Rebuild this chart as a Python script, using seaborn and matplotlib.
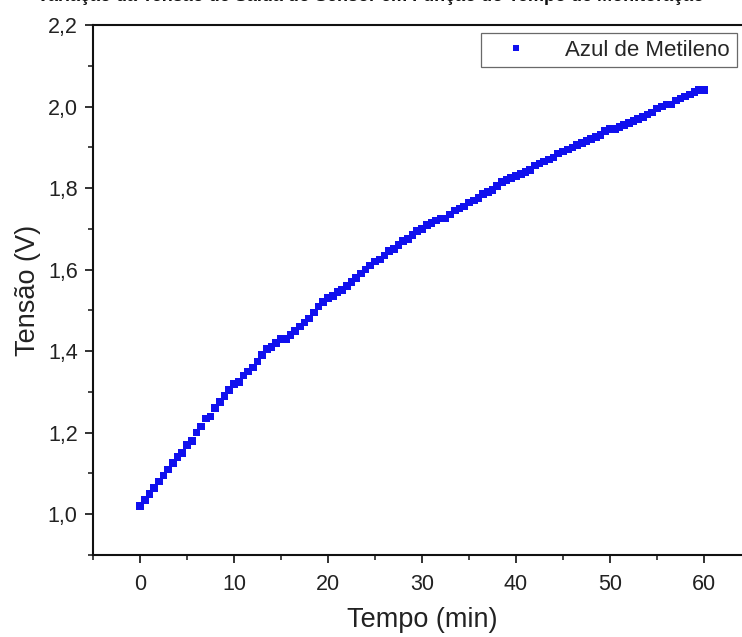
import numpy as np
import pandas as pd
import matplotlib
matplotlib.use("Agg")
import matplotlib.pyplot as plt
import seaborn as sns
from matplotlib.ticker import MultipleLocator, FuncFormatter

# ==============================================================================
# DATA
# ==============================================================================
tempo = np.arange(0, 60.5, 0.5)  # min, one reading every 30 s
tensao = [
    1.020, 1.035, 1.050, 1.065, 1.080, 1.095, 1.110, 1.125, 1.140, 1.150,
    1.170, 1.180, 1.200, 1.215, 1.235, 1.240, 1.260, 1.275, 1.290, 1.305,
    1.320, 1.325, 1.340, 1.350, 1.360, 1.375, 1.390, 1.405, 1.410, 1.420,
    1.430, 1.430, 1.440, 1.450, 1.460, 1.470, 1.480, 1.495, 1.510, 1.520,
    1.530, 1.535, 1.545, 1.550, 1.560, 1.570, 1.580, 1.590, 1.600, 1.610,
    1.620, 1.625, 1.635, 1.645, 1.650, 1.660, 1.670, 1.675, 1.685, 1.695,
    1.700, 1.710, 1.715, 1.720, 1.725, 1.725, 1.735, 1.745, 1.750, 1.755,
    1.765, 1.770, 1.775, 1.785, 1.790, 1.795, 1.805, 1.815, 1.820, 1.825,
    1.830, 1.835, 1.840, 1.845, 1.855, 1.860, 1.865, 1.870, 1.875, 1.885,
    1.890, 1.895, 1.900, 1.905, 1.910, 1.915, 1.920, 1.925, 1.930, 1.940,
    1.945, 1.945, 1.950, 1.955, 1.960, 1.965, 1.970, 1.975, 1.980, 1.985,
    1.995, 2.000, 2.005, 2.005, 2.015, 2.020, 2.025, 2.030, 2.035, 2.040,
    2.040,
]
serie = "Azul de Metileno"
titulo = "Variação da Tensão de Saída do Sensor em Função do Tempo de Monitoração"

df = pd.DataFrame({"Tempo (min)": tempo, "Tensão (V)": tensao, "serie": serie})

# ==============================================================================
# PLOT
# ==============================================================================
sns.set_style("ticks")
plt.rcParams["font.family"] = ["Liberation Sans", "DejaVu Sans"]

fig = plt.figure(figsize=(7.42, 6.37), dpi=100)
ax = fig.add_axes([93 / 742, 82 / 637, 658 / 742, 530 / 637])

sns.scatterplot(
    data=df, x="Tempo (min)", y="Tensão (V)", hue="serie",
    palette=["#1010ee"], marker="s", s=30, edgecolor="none", linewidth=0,
    ax=ax,
)

ax.set_xlim(-5, 65)
ax.set_ylim(0.9, 2.2)
ax.xaxis.set_major_locator(MultipleLocator(10))
ax.xaxis.set_minor_locator(MultipleLocator(5))
ax.yaxis.set_major_locator(MultipleLocator(0.2))
ax.yaxis.set_minor_locator(MultipleLocator(0.1))
ax.yaxis.set_major_formatter(FuncFormatter(lambda v, p: f"{v:.1f}".replace(".", ",")))

ax.tick_params(which="major", direction="out", length=6, width=1.3, labelsize=15.5,
               colors="#222222")
ax.tick_params(axis="x", which="major", pad=8)
ax.tick_params(axis="y", which="major", pad=5)
ax.tick_params(which="minor", direction="out", length=3.5, width=1.2)
for s in ax.spines.values():
    s.set_linewidth(1.5)
    s.set_color("#111111")

ax.set_xlabel("Tempo (min)", fontsize=19.5, labelpad=8, color="#222222")
ax.set_ylabel("Tensão (V)", fontsize=19.5, labelpad=5, color="#222222")

leg = ax.legend(loc="upper right", bbox_to_anchor=(0.978, 0.985),
                fontsize=16, frameon=True, fancybox=False, markerscale=0.8,
                handletextpad=0.9, handlelength=2.6, borderpad=0.3,
                borderaxespad=0)
leg.get_frame().set_edgecolor("#444444")
leg.get_frame().set_linewidth(0.9)

# title that is mostly cut off by the top edge of the figure
fig.text(0.5, 1 - 1 / 637, titulo, ha="center", va="baseline",
         fontsize=13, weight="bold", color="#111111")

plt.savefig("out.png", dpi=100)
plt.close()
